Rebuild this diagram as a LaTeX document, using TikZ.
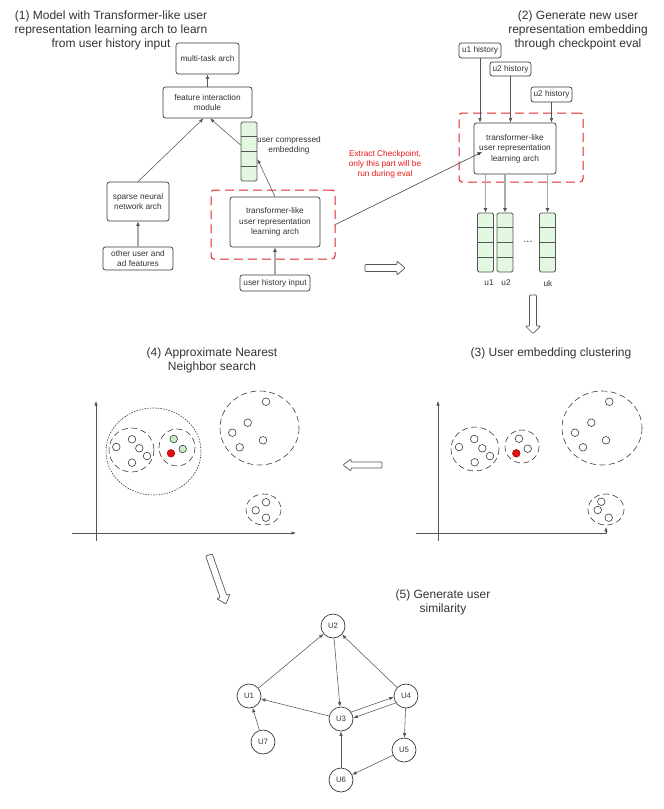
\documentclass[tikz,border=0pt]{standalone}
\usepackage{fontspec}
\setmainfont{Liberation Sans}
\usetikzlibrary{arrows.meta,calc}
\definecolor{ln}{HTML}{555555}
\definecolor{bd}{HTML}{3A3A3A}
\definecolor{txt}{HTML}{333333}
\definecolor{redd}{HTML}{E02424}
\definecolor{redt}{HTML}{E81818}
\definecolor{embg}{HTML}{E2F8E0}
\definecolor{ptred}{HTML}{E01010}
\definecolor{ptgreen}{HTML}{C8EEC8}
\definecolor{lgray}{HTML}{AAAAAA}
\begin{document}
\begin{tikzpicture}[x=1pt,y=-1pt,
  box/.style={draw=bd, rounded corners=2.5pt, line width=0.7pt, fill=white, align=center,
     font=\fontsize{8.3}{10.5}\selectfont, inner sep=0pt, text=txt},
  title/.style={align=center, font=\fontsize{12}{14}\selectfont, text=txt, inner sep=0pt},
  small/.style={align=center, font=\fontsize{8.3}{10}\selectfont, text=txt, inner sep=0pt},
  reddash/.style={draw=redd, dash pattern=on 9pt off 5pt, line width=1pt, rounded corners=3pt, inner sep=0pt},
  embcol/.style={draw=ln, line width=0.8pt, fill=embg, rounded corners=1.5pt, inner sep=0pt, minimum width=16pt, minimum height=59pt},
  arr/.style={draw=ln, line width=0.55pt, -{Latex[length=4.5pt,width=3.5pt]}},
  garr/.style={draw=lgray, line width=1.3pt, -{Latex[length=4.5pt,width=4pt,color=ln]}},
  blk/.style={draw=ln, fill=white, line width=0.7pt, rounded corners=0.8pt},
  pt/.style={draw=bd, line width=0.6pt, fill=white},
  clus/.style={draw=bd, line width=0.6pt, dash pattern=on 6pt off 3.5pt},
  dotc/.style={draw=bd, line width=0.6pt, dash pattern=on 1.5pt off 1.2pt},
  axis/.style={draw=ln, line width=0.6pt, -{Latex[length=4.5pt,width=3.5pt]}},
  gnode/.style={circle, draw=bd, line width=0.7pt, minimum size=24pt, inner sep=0pt, fill=white,
     font=\fontsize{7.8}{9}\selectfont, text=txt}
]
\useasboundingbox (0,0) rectangle (664,809);

% ---------- (1) ----------
\node[title] (t1) at (111,30) {(1) Model with Transformer-like user\\representation learning arch to learn\\from user history input};
\node[box, minimum width=63pt, minimum height=31pt] (mta) at (207.5,58.5) {multi-task arch};
\node[box, minimum width=89pt, minimum height=31pt] (fim) at (207.5,102.5) {feature interaction\\module};
\node[embcol] (emb) at (249,151.5) {};
\node[small] (embl) at (289,145.5) {user compressed\\embedding};
\node[box, minimum width=62pt, minimum height=39pt] (snn) at (138,201.5) {sparse neural\\network arch};
\node[box, minimum width=70pt, minimum height=23pt] (oth) at (138,258.5) {other user and\\ad features};
\node[reddash, minimum width=124pt, minimum height=69pt] (rtl) at (273,224.5) {};
\node[box, minimum width=90pt, minimum height=50pt] (tl) at (275,222) {transformer-like\\user representation\\learning arch};
\node[box, minimum width=70pt, minimum height=16pt] (uhi) at (275,283) {user history input};

\draw[arr] (fim.north) -- (mta.south);
\draw[arr] (snn.north) -- ([xshift=-4pt]fim.south);
\draw[arr] ([yshift=6.5pt]emb.west) -- ([xshift=2.5pt]fim.south);
\draw[arr] (tl.north) -- ([yshift=-7.5pt]emb.east);
\draw[garr] (oth.north) -- (snn.south);
\draw[garr] (uhi.north) -- (tl.south);

% ---------- (2) ----------
\node[title] (t2) at (578,30) {(2) Generate new user\\representation embedding\\through checkpoint eval};
\node[box, minimum width=42pt, minimum height=15pt] (h1) at (480,50.5) {u1 history};
\node[box, minimum width=41pt, minimum height=14pt] (h2) at (510.5,69) {u2 history};
\node[box, minimum width=41pt, minimum height=15pt] (h3) at (551.5,94.5) {u2 history};
\node[reddash, minimum width=124pt, minimum height=69pt] (rtr) at (521,147.5) {};
\node[box, minimum width=82pt, minimum height=51pt] (tr) at (515,148.5) {transformer-like\\user representation\\learning arch};
\node[embcol] (c1) at (485.5,242.5) {};
\node[embcol] (c2) at (505,242.5) {};
\node[embcol] (c3) at (547.5,242.5) {};
\node[small] (lu1) at (489,283) {u1};
\node[small] (lu2) at (506,283) {u2};
\node[small] (luk) at (548,284) {uk};
\node[font=\fontsize{11}{12}\selectfont, text=txt, inner sep=0pt] (dots) at (528,242) {...};

\foreach \n in {emb,c1,c2,c3}
  \foreach \f in {0.25,0.5,0.75}
    \draw[ln, line width=0.8pt] ($(\n.north west)!\f!(\n.south west)$) -- ($(\n.north east)!\f!(\n.south east)$);

\draw[arr] (h1.south) -- (h1.south |- tr.north);
\draw[arr] (h2.south) -- (h2.south |- tr.north);
\draw[arr] (h3.south) -- (h3.south |- tr.north);
\draw[garr] (tr.south -| c1.north) -- (c1.north);
\draw[garr] (tr.south -| c2.north) -- (c2.north);
\draw[garr] (tr.south -| c3.north) -- (c3.north);

\node[small, text=redt] (ext) at (385,164.5) {Extract Checkpoint,\\only this part will be\\run during eval};
\coordinate (ckp) at (482,152);
\draw[arr, draw=bd] (rtl.east) -- (ckp);

% block arrows
\draw[blk] (365,264.5) -- (397,264.5) -- (397,261) -- (405,268) -- (397,275) -- (397,271.5) -- (365,271.5) -- cycle;
\draw[blk] (529.5,295) -- (536.5,295) -- (536.5,326) -- (540.5,326) -- (533,333.5) -- (525.5,326) -- (529.5,326) -- cycle;
\draw[blk] (382,462) -- (351,462) -- (351,459) -- (343,465) -- (351,471) -- (351,468) -- (382,468) -- cycle;
\draw[blk] (212.3,553.9) -- (226.7,595.3) -- (230.0,594.1) -- (226,604) -- (216.8,598.7) -- (220.1,597.5) -- (205.7,556.1) -- cycle;

% ---------- (4) ----------
\node[title] (t4) at (212,360) {(4) Approximate Nearest\\Neighbor search};
\draw[axis] (96,541) -- (96,401);
\draw[axis] (72,533) -- (296,533);
\draw[dotc] (153.5,451.5) ellipse [x radius=47.5, y radius=43.5];
\draw[clus] (131.5,450) ellipse [x radius=22.5, y radius=22];
\draw[clus] (177,447.5) ellipse [x radius=18, y radius=18.5];
\draw[clus] (259.5,428) ellipse [x radius=39.5, y radius=37];
\draw[clus] (263.5,509.5) ellipse [x radius=17.5, y radius=15.5];
\foreach \p in {(132,439.3),(116.3,447),(139.3,448.3),(147,456),(132,462.7),
                (266,401.7),(247.7,422.7),(232.3,432.7),(263,440.3),(239.7,447.3),
                (266,502.3),(255.7,510.3),(266,517.7)}
  \draw[pt] \p circle [radius=3.8];
\draw[pt, fill=ptgreen] (173.7,439) circle [radius=3.8];
\draw[pt, fill=ptgreen] (182.7,449) circle [radius=3.8];
\draw[pt, fill=ptred, draw=ptred!80!black] (171,453.3) circle [radius=3.8];

% ---------- (3) ----------
\node[title] (t3) at (551,353) {(3) User embedding clustering};
\draw[axis] (438,541) -- (438,401);
\draw[axis] (416,533) -- (606,533) -- (606,527);
\draw[clus] (475,449) ellipse [x radius=24, y radius=22];
\draw[clus] (522,446.5) ellipse [x radius=17, y radius=16.5];
\draw[clus] (602,428) ellipse [x radius=40, y radius=37];
\draw[clus] (606,509.5) ellipse [x radius=18, y radius=15.5];
\foreach \p in {(474.3,439),(459,447),(482.3,448.3),(490,456),(474.7,462.3),
                (519,438.7),(527.7,448.7),
                (609.3,401.7),(591.3,422.7),(575,432.7),(606,440.3),(583,447.3),
                (601.3,501.7),(597.7,510),(608.7,517.7)}
  \draw[pt] \p circle [radius=3.8];
\draw[pt, fill=ptred, draw=ptred!80!black] (516.3,453.3) circle [radius=3.8];

% ---------- (5) ----------
\node[title] (t5) at (443,602) {(5) Generate user\\similarity};
\node[gnode] (U2) at (333,626) {U2};
\node[gnode] (U1) at (249,696) {U1};
\node[gnode] (U7) at (263,742) {U7};
\node[gnode] (U3) at (341,719) {U3};
\node[gnode] (U4) at (406,696) {U4};
\node[gnode] (U5) at (404,750) {U5};
\node[gnode] (U6) at (341,780) {U6};
\draw[arr] (U1) -- (U2);
\draw[arr] (U2) -- (U3);
\draw[arr] (U3) -- (U1);
\draw[arr] (U4) -- (U2);
\draw[arr] (U3.34) -- (U4.185);
\draw[arr] (U4.214) -- (U3.5);
\draw[arr] (U4) -- (U5);
\draw[arr] (U5) -- (U6);
\draw[arr] (U6) -- (U3);
\draw[arr] (U7) -- (U1);
\end{tikzpicture}
\end{document}
